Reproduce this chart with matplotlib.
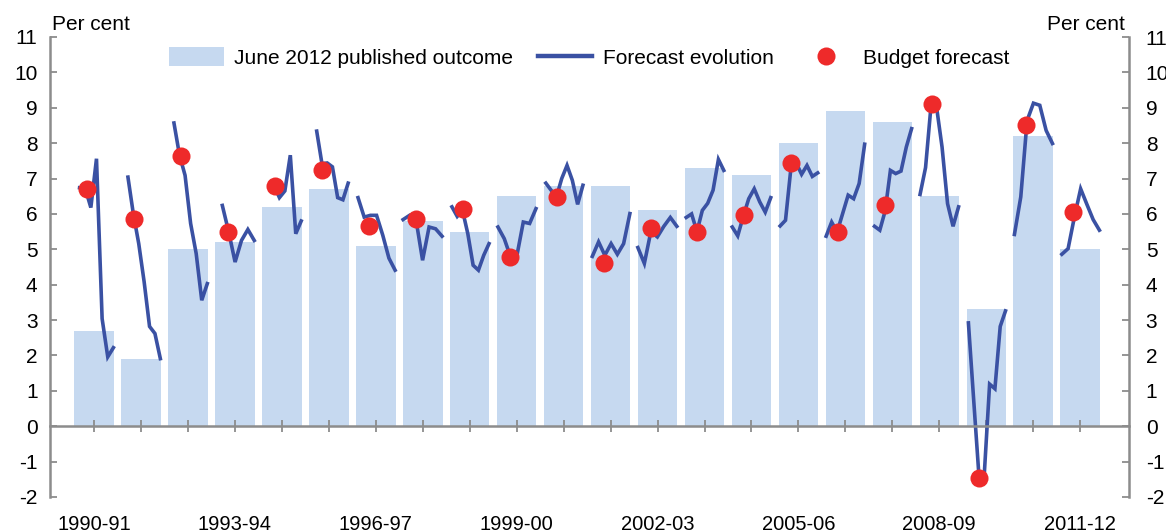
import matplotlib
matplotlib.use("Agg")
import matplotlib.pyplot as plt
import numpy as np
from matplotlib.lines import Line2D
from matplotlib.patches import Patch

plt.rcParams['font.family'] = ['Liberation Sans', 'DejaVu Sans']
plt.rcParams['axes.unicode_minus'] = False

# Financial years
years = ['1990-91', '1991-92', '1992-93', '1993-94', '1994-95', '1995-96',
         '1996-97', '1997-98', '1998-99', '1999-00', '2000-01', '2001-02',
         '2002-03', '2003-04', '2004-05', '2005-06', '2006-07', '2007-08',
         '2008-09', '2009-10', '2010-11', '2011-12']

# June 2012 published outcome (per cent)
outcome = [2.7, 1.9, 5.0, 5.2, 6.2, 6.7, 5.1, 5.8, 5.5, 6.5, 6.8,
           6.8, 6.1, 7.3, 7.1, 8.0, 8.9, 8.6, 6.5, 3.3, 8.2, 5.0]

# Budget forecast (per cent)
budget = [6.7, 5.85, 7.65, 5.5, 6.8, 7.25, 5.65, 5.85, 6.15, 4.77, 6.47,
          4.6, 5.6, 5.5, 5.96, 7.43, 5.5, 6.25, 9.12, -1.47, 8.5, 6.05]

# Forecast evolution, successive forecasts for each year
evolution = [
    [6.74, 6.72, 6.18, 7.56, 3.04, 1.96, 2.22],
    [7.04, 6.0, 5.16, 4.08, 2.82, 2.62, 1.91],
    [8.57, 7.66, 7.09, 5.73, 4.88, 3.56, 4.03],
    [6.24, 5.49, 4.64, 5.25, 5.56, 5.25],
    [6.81, 6.46, 6.65, 7.66, 5.44, 5.8],
    [8.34, 7.42, 7.44, 7.33, 6.46, 6.40, 6.87],
    [6.46, 5.91, 5.96, 5.96, 5.4, 4.75, 4.41],
    [5.84, 5.96, 5.82, 4.69, 5.63, 5.58, 5.37],
    [6.2, 5.93, 6.1, 5.44, 4.55, 4.41, 4.83, 5.16],
    [5.63, 5.3, 4.78, 4.83, 5.77, 5.73, 6.15],
    [6.87, 6.67, 6.48, 7.0, 7.37, 6.95, 6.27, 6.81],
    [4.8, 5.21, 4.83, 5.16, 4.86, 5.16, 6.01],
    [5.05, 4.6, 5.5, 5.35, 5.65, 5.9, 5.65],
    [5.9, 6.0, 5.5, 6.1, 6.3, 6.67, 7.54, 7.23],
    [5.63, 5.38, 5.93, 6.43, 6.71, 6.34, 6.05, 6.46],
    [5.66, 5.82, 7.28, 7.44, 7.12, 7.37, 7.06, 7.16],
    [5.37, 5.77, 5.49, 6.01, 6.53, 6.43, 6.86, 7.97],
    [5.65, 5.54, 6.08, 7.23, 7.14, 7.21, 7.89, 8.41],
    [6.55, 7.31, 9.07, 9.02, 7.89, 6.29, 5.65, 6.2],
    [2.92, 0.73, -1.43, -1.34, 1.19, 1.06, 2.82, 3.26],
    [5.42, 6.48, 8.64, 9.13, 9.07, 8.36, 7.99],
    [4.86, 5.02, 5.91, 6.71, 6.27, 5.84, 5.54],
]
# when within the year's slot the first forecast appears (fraction of a year)
first_forecast = [-0.31, -0.28, -0.30, -0.27, -0.17, -0.26, -0.38, -0.42,
                  -0.38, -0.40, -0.38, -0.39, -0.42, -0.39, -0.41, -0.39,
                  -0.41, -0.38, -0.41, -0.38, -0.40, -0.39]

bar_color = '#C6D9F0'
line_color = '#3A51A3'
dot_color = '#EE2A2A'
axis_grey = '#8C8C8C'

fig = plt.figure(figsize=(11.66, 5.31), dpi=100)
ax = fig.add_axes([50 / 1166, 34 / 531, 1079 / 1166, 460 / 531])

x = np.arange(len(years))
ax.bar(x, outcome, width=0.84, color=bar_color, zorder=1)

for i, vals in enumerate(evolution):
    xs = i + np.linspace(first_forecast[i], 0.41, len(vals))
    ax.plot(xs, vals, color=line_color, lw=2.6, solid_joinstyle='miter', zorder=2)

ax.plot(x - 0.15, budget, 'o', color=dot_color, ms=13, mec='none', zorder=3)

ax.set_xlim(-0.94, len(years) - 1 + 1.04)
ax.set_ylim(-2, 11)
ax.set_yticks(range(-2, 12))

ax.spines['top'].set_visible(False)
ax.spines['right'].set_visible(False)
ax.spines['bottom'].set_position(('data', 0))
for s in ['left', 'bottom']:
    ax.spines[s].set_color(axis_grey)
    ax.spines[s].set_linewidth(1.8)

ax.set_xticks(x)
ax.set_xticklabels([y if i % 3 == 0 else '' for i, y in enumerate(years)])
ax.tick_params(axis='x', direction='inout', length=8, width=1.3, color=axis_grey,
               labelsize=14.5, pad=60)
ax.tick_params(axis='y', direction='in', length=5, width=1.3, color=axis_grey,
               labelsize=15, pad=9)

ax2 = ax.twinx()
ax2.set_ylim(-2, 11)
ax2.set_yticks(range(-2, 12))
for s in ['top', 'left', 'bottom']:
    ax2.spines[s].set_visible(False)
ax2.spines['right'].set_color(axis_grey)
ax2.spines['right'].set_linewidth(1.8)
ax2.tick_params(axis='y', direction='in', length=5, width=1.3, color=axis_grey,
                labelsize=15, pad=12)

fig.text(52 / 1166, 1 - 25 / 531, 'Per cent', fontsize=15, ha='left', va='center')
fig.text(1125 / 1166, 1 - 25 / 531, 'Per cent', fontsize=15, ha='right', va='center')

handles = [
    Patch(facecolor=bar_color, edgecolor='none'),
    Line2D([], [], color=line_color, lw=3.2),
    Line2D([], [], marker='o', ls='none', color=dot_color, ms=13, mec='none'),
]
labels = ['June 2012 published outcome', 'Forecast evolution', 'Budget forecast']
ax.legend(handles, labels, loc='center', bbox_to_anchor=(0.5, 0.955), ncol=3,
          frameon=False, fontsize=15, handlelength=2.6, handleheight=1.0,
          handletextpad=0.5, columnspacing=1.2)

fig.savefig('out.png', dpi=100)
